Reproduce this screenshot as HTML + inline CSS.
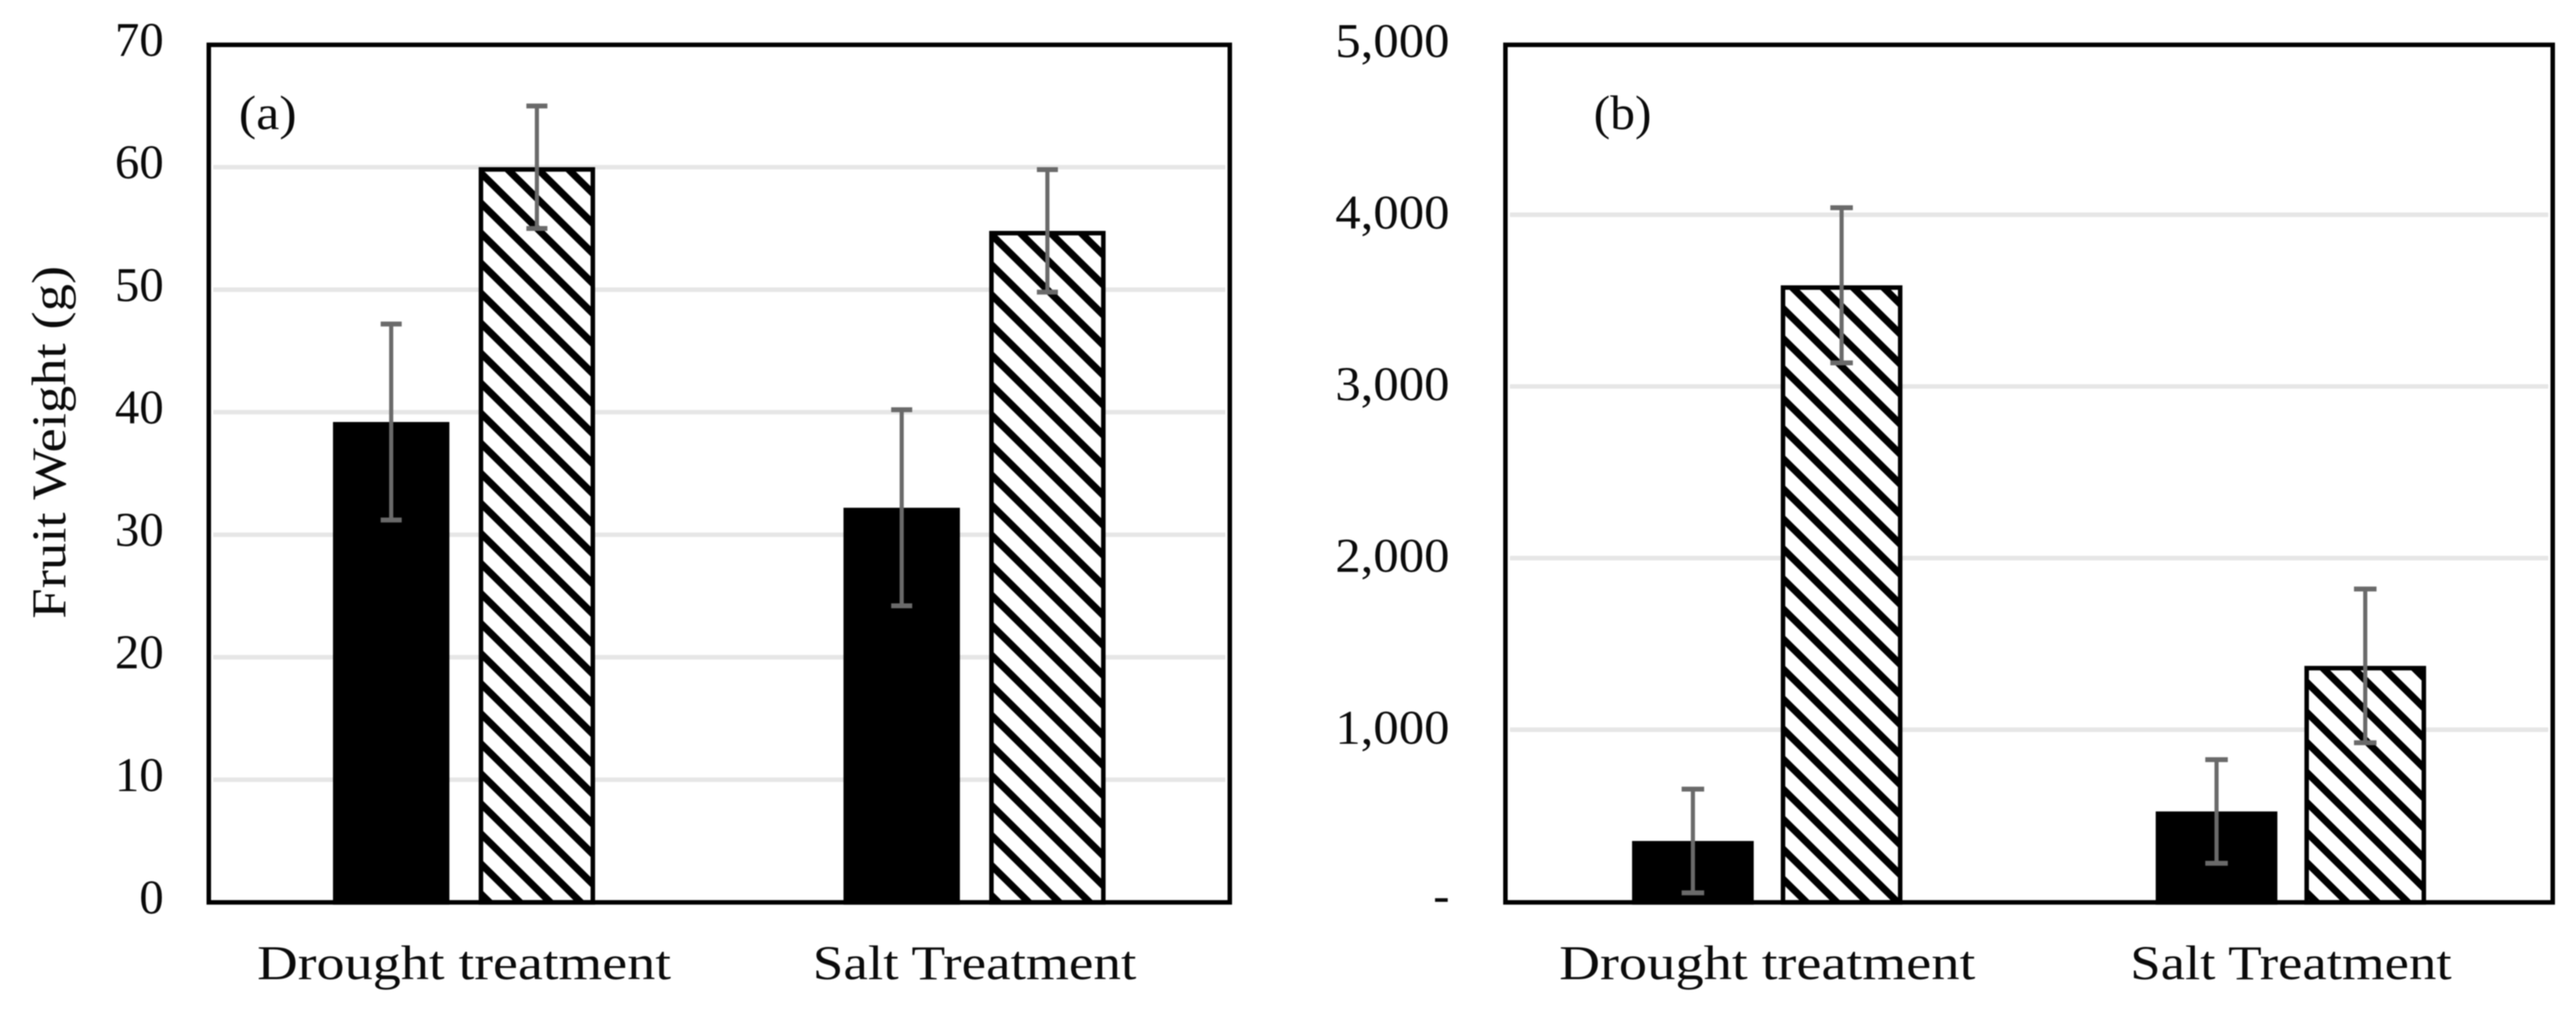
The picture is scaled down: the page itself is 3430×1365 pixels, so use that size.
<!DOCTYPE html>
<html>
<head>
<meta charset="utf-8">
<title>Fruit weight charts</title>
<style>
html,body{margin:0;padding:0;background:#fff;}
svg{display:block;filter:blur(0.8px);}
text{font-family:"Liberation Serif",serif;font-size:65px;fill:#0a0a0a;}
</style>
</head>
<body>
<svg id="chart" xmlns="http://www.w3.org/2000/svg" width="3430" height="1365" viewBox="0 0 3430 1365">
<defs>
<pattern id="hatch-a-0" patternUnits="userSpaceOnUse" width="40.5" height="40" x="0" y="37.9">
<path d="M-10,-9.88 L50.5,49.88 M-10,30.12 L10,49.88 M30.5,-9.88 L50.5,9.88" stroke="#000" stroke-width="9.5" fill="none"/>
</pattern>
<pattern id="hatch-a-1" patternUnits="userSpaceOnUse" width="40.5" height="40" x="0" y="8.6">
<path d="M-10,-9.88 L50.5,49.88 M-10,30.12 L10,49.88 M30.5,-9.88 L50.5,9.88" stroke="#000" stroke-width="9.5" fill="none"/>
</pattern>
<pattern id="hatch-b-0" patternUnits="userSpaceOnUse" width="40.5" height="40" x="0" y="25.9">
<path d="M-10,-9.88 L50.5,49.88 M-10,30.12 L10,49.88 M30.5,-9.88 L50.5,9.88" stroke="#000" stroke-width="9.5" fill="none"/>
</pattern>
<pattern id="hatch-b-1" patternUnits="userSpaceOnUse" width="40.5" height="40" x="0" y="35">
<path d="M-10,-9.88 L50.5,49.88 M-10,30.12 L10,49.88 M30.5,-9.88 L50.5,9.88" stroke="#000" stroke-width="9.5" fill="none"/>
</pattern>
</defs>
<rect x="0" y="0" width="3430" height="1365" fill="#fff"/>
<text transform="translate(87,589) rotate(-90)" text-anchor="middle" textLength="470" lengthAdjust="spacingAndGlyphs">Fruit Weight (g)</text>
<text x="318" y="172" textLength="77" lengthAdjust="spacingAndGlyphs">(a)</text>
<text x="2122" y="172" textLength="77" lengthAdjust="spacingAndGlyphs">(b)</text>
</svg>
<script>
const categories = ["Drought treatment", "Salt Treatment"];

const aTickValues = [0, 10, 20, 30, 40, 50, 60, 70];
const aTickLabels = ["0", "10", "20", "30", "40", "50", "60", "70"];
const aBlackValues = [39.2, 32.2];
const aBlackErrors = [8, 8];
const aHatchedValues = [60, 54.8];
const aHatchedErrors = [5, 5];

const bTickValues = [0, 1000, 2000, 3000, 4000, 5000];
const bTickLabels = ["-", "1,000", "2,000", "3,000", "4,000", "5,000"];
const bBlackValues = [352, 524];
const bBlackErrors = [302, 302];
const bHatchedValues = [3589, 1372];
const bHatchedErrors = [452, 448];

const svg = document.getElementById('chart');
const NS = 'http://www.w3.org/2000/svg';

function make(tag, attrs, name) {
  const el = document.createElementNS(NS, tag);
  for (const k in attrs) el.setAttribute(k, attrs[k]);
  
  
  svg.appendChild(el);
  return el;
}

function drawPanel(p) {
  const yScale = v => p.axisBottom - (v - p.yMin) / (p.yMax - p.yMin) * (p.axisBottom - p.axisTop);
  const bandWidth = (p.right - p.left) / categories.length;
  const xCenter = i => p.left + bandWidth * (i + 0.5);

  p.ticks.forEach((t, i) => {
    const y = yScale(t);
    if (t !== p.yMin && t !== p.yMax) {
      make('line', {x1: p.left + 6, x2: p.right - 6, y1: y, y2: y, stroke: '#e6e6e6', 'stroke-width': 6}, p.id + '-gridline-' + t);
    }
    const isDash = p.tickLabels[i] === '-';
    const lab = make('text', {x: p.tickRight, y: y + p.tickBaseline - (isDash ? 5 : 0), 'text-anchor': 'end'}, p.id + '-y-tick-label-' + t);
    lab.textContent = p.tickLabels[i];
    if (p.tickWidth && !isDash) {
      lab.setAttribute('textLength', p.tickWidth);
      lab.setAttribute('lengthAdjust', 'spacingAndGlyphs');
    }
  });

  categories.forEach((c, i) => {
    const cx = xCenter(i);
    const series = [
      {key: 'black', off: -p.barOffset, val: p.black[i], err: p.blackErr[i], fill: '#000'},
      {key: 'hatched', off: p.barOffset, val: p.hatched[i], err: p.hatchedErr[i], fill: 'url(#' + p.hatch + '-' + i + ')'}
    ];
    series.forEach(s => {
      const x = cx + s.off;
      const y = yScale(s.val);
      const geom = {x: x - p.barWidth / 2 + 3, y: y + 3, width: p.barWidth - 6, height: p.frameBottom - y - 3};
      if (s.key === 'hatched') {
        make('rect', Object.assign({}, geom, {fill: '#fff'}), p.id + '-bar-backing-' + i);
      }
      make('rect', Object.assign({}, geom, {fill: s.fill, stroke: '#000', 'stroke-width': 6}), p.id + '-bar-' + s.key + '-' + i);
    });
    series.forEach(s => {
      const x = cx + s.off;
      const yHi = yScale(s.val + s.err);
      const yLo = yScale(s.val - s.err);
      make('line', {x1: x, x2: x, y1: yHi, y2: yLo, stroke: '#6a6a6a', 'stroke-width': 5.5}, p.id + '-error-bar-' + s.key + '-' + i);
      make('line', {x1: x - p.capHalf, x2: x + p.capHalf, y1: yHi, y2: yHi, stroke: '#6a6a6a', 'stroke-width': 6.5}, p.id + '-error-cap-top-' + s.key + '-' + i);
      make('line', {x1: x - p.capHalf, x2: x + p.capHalf, y1: yLo, y2: yLo, stroke: '#6a6a6a', 'stroke-width': 6.5}, p.id + '-error-cap-bottom-' + s.key + '-' + i);
    });
    const xl = make('text', {x: cx, y: 1304, 'text-anchor': 'middle', textLength: p.labelWidths[i], lengthAdjust: 'spacingAndGlyphs'}, p.id + '-x-category-label-' + i);
    xl.textContent = c;
  });

  make('rect', {x: p.left, y: p.frameTop, width: p.right - p.left, height: p.frameBottom - p.frameTop, fill: 'none', stroke: '#000', 'stroke-width': 6}, p.id + '-plot-frame');
}

drawPanel({
  id: 'panel-a', left: 278, right: 1637.5, frameTop: 59.7, frameBottom: 1201.7,
  axisTop: 59.5, axisBottom: 1201.5,
  yMin: 0, yMax: 70, ticks: aTickValues, tickLabels: aTickLabels, tickRight: 218, tickBaseline: 15,
  black: aBlackValues, blackErr: aBlackErrors, hatched: aHatchedValues, hatchedErr: aHatchedErrors,
  barWidth: 155, barOffset: 97, capHalf: 14, hatch: 'hatch-a', labelWidths: [551, 431]
});
drawPanel({
  id: 'panel-b', left: 2004.5, right: 3399, frameTop: 59.7, frameBottom: 1201.7,
  axisTop: 57.4, axisBottom: 1200.4,
  yMin: 0, yMax: 5000, ticks: bTickValues, tickLabels: bTickLabels, tickRight: 1930, tickBaseline: 18.5, tickWidth: 152,
  black: bBlackValues, blackErr: bBlackErrors, hatched: bHatchedValues, hatchedErr: bHatchedErrors,
  barWidth: 162, barOffset: 99, capHalf: 15, hatch: 'hatch-b', labelWidths: [554, 428]
});
</script>
</body>
</html>
